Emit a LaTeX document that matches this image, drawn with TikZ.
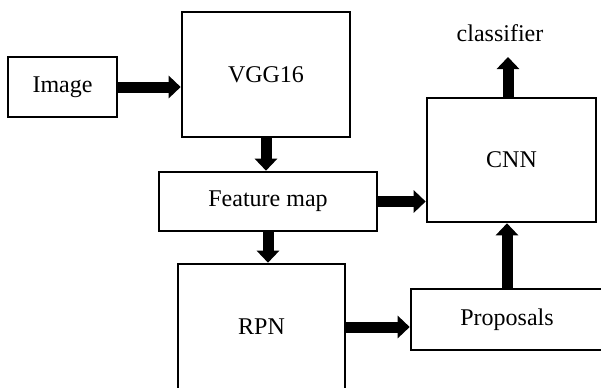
\documentclass[tikz,border=0pt,12pt]{standalone}
\usepackage{fontspec}
\setmainfont{Liberation Serif}
\usepackage{tikz}
\usetikzlibrary{positioning,arrows.meta,calc}

\begin{document}
\begin{tikzpicture}[
    x=0.5pt,y=-0.5pt,
    font=\fontsize{12}{14}\selectfont,
    block/.style={draw,line width=1.3pt,align=center,inner sep=0pt},
    arr/.style={-{Triangle[width=11pt,length=6pt]},line width=5.5pt}
  ]
    \useasboundingbox (0,0) rectangle (601,387);
    \clip (0,0) rectangle (601,387);

    \node[block,minimum width=54.5pt,minimum height=30pt] (image) at (62.5,87) {Image};
    \node[block,minimum width=84pt,minimum height=62.5pt] (vgg) at (266,74.5) {VGG16};
    \node[block,minimum width=109pt,minimum height=29.5pt] (feat) at (268,201.5) {Feature map};
    \node[block,minimum width=83.5pt,minimum height=63pt] (rpn) at (261.5,327) {RPN};
    \node[block,minimum width=84.5pt,minimum height=62pt] (cnn) at (511.5,160) {CNN};
    \node[block,minimum width=96pt,minimum height=30.5pt] (props) at (507,319.5) {Proposals};
    \node[anchor=base,inner sep=0pt] (cls) at (500,41) {classifier};
    \coordinate (clstip) at (508,57);

    \draw[arr] (image.east) -- (image.east -| vgg.west);
    \draw[arr] (vgg.south) -- (vgg.south |- feat.north);
    \draw[arr] (feat.south) -- (feat.south |- rpn.north);
    \draw[arr] (feat.east) -- (feat.east -| cnn.west);
    \draw[arr] (cnn.north -| clstip) -- (clstip);
    \draw[arr] (rpn.east) -- (rpn.east -| props.west);
    \draw[arr] (props.north) -- (props.north |- cnn.south);
  \end{tikzpicture}
\end{document}
